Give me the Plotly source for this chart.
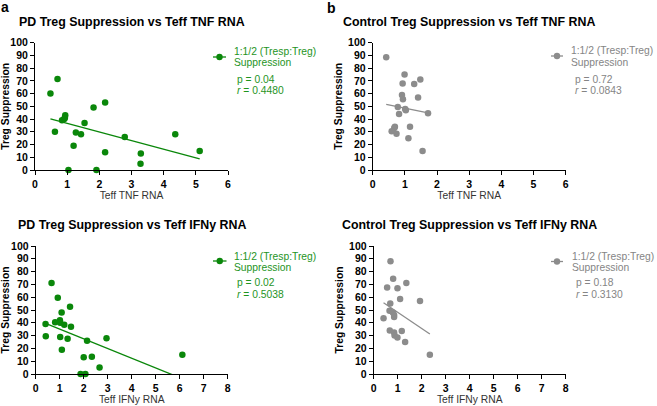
import plotly.graph_objects as go

W, H = 657, 406

# ---------------- data ----------------
pd_tnf_x = [0.48, 0.70, 0.62, 0.84, 0.91, 0.94, 0.93, 1.04, 1.20, 1.27, 1.43, 1.54, 1.82, 1.91, 2.18, 2.18, 2.79, 3.29, 3.28, 4.36, 5.12]
pd_tnf_y = [60, 71.5, 30, 39, 40, 43, 41, 0, 19, 29.5, 28, 37, 49, 0, 53, 14, 26, 13, 5, 28, 15]
pd_tnf_fit_x = [0.48, 5.12]
pd_tnf_fit_y = [40.2, 8.7]

ctrl_tnf_x = [0.42, 0.99, 0.93, 1.29, 1.48, 0.91, 0.94, 1.41, 0.78, 1.01, 1.03, 0.82, 1.72, 0.69, 0.67, 0.59, 0.74, 1.16, 1.11, 1.55]
ctrl_tnf_y = [88.5, 75, 68, 67.5, 71, 59, 55.5, 57, 49.5, 48, 47, 44, 44.5, 34, 33, 30.5, 28.5, 34, 25, 15]
ctrl_tnf_fit_x = [0.42, 1.72]
ctrl_tnf_fit_y = [51.6, 44.9]

pd_ifn_x = [0.41, 0.42, 0.66, 0.81, 0.92, 1.01, 1.02, 1.08, 1.09, 1.02, 1.19, 1.33, 1.43, 1.47, 1.87, 2.07, 2.00, 2.14, 2.34, 2.66, 2.95, 6.11]
pd_ifn_y = [39, 29.5, 71, 40.5, 59.5, 42, 40, 48, 19, 29, 38.5, 27.5, 52.5, 37, 0, 0, 13, 26, 13.5, 5, 28, 15]
pd_ifn_fit_x = [0.41, 6.11]
pd_ifn_fit_y = [39.6, -3.7]

ctrl_ifn_x = [0.70, 0.81, 0.56, 0.99, 1.36, 1.10, 1.93, 0.69, 0.66, 0.80, 0.85, 0.85, 0.41, 0.67, 0.85, 0.87, 0.99, 1.17, 1.31, 2.34]
ctrl_ifn_y = [88, 74.5, 67.5, 67, 71, 58.5, 57, 55, 49.5, 48, 46, 44.5, 43.5, 34, 32.5, 30, 28.5, 33.5, 25, 15]
ctrl_ifn_fit_x = [0.41, 2.34]
ctrl_ifn_fit_y = [55.7, 31.3]

titles = ["PD Treg Suppression vs Teff TNF RNA", "Control Treg Suppression vs Teff TNF RNA",
          "PD Treg Suppression vs Teff IFNy RNA", "Control Treg Suppression vs Teff IFNy RNA"]
x_titles = ["Teff TNF RNA", "Teff TNF RNA", "Teff IFNy RNA", "Teff IFNy RNA"]
y_title = "Treg Suppression"
legend_label = ["1:1/2 (Tresp:Treg)", "Suppression"]
p_values = ["0.04", "0.72", "0.02", "0.18"]
r_values = ["0.4480", "0.0843", "0.5038", "0.3130"]
x_max = [6, 6, 8, 8]

GREEN = "#0a870a"
GREEN_TXT = "#1e941e"
GRAY = "#8c8c8c"
GRAY_TXT = "#858585"
FONT = "Liberation Sans, Arial, Helvetica, sans-serif"

def px(x):
    return x / W

def py(y):
    return 1 - y / H

# pixel layout of each panel: (left, right, top, bottom)
boxes = [(35, 228, 42.7, 170), (372.7, 565.7, 42.7, 170),
         (35.7, 227.7, 246, 374), (373.7, 565.7, 246, 374)]
series = [(pd_tnf_x, pd_tnf_y, pd_tnf_fit_x, pd_tnf_fit_y, GREEN, GREEN_TXT),
          (ctrl_tnf_x, ctrl_tnf_y, ctrl_tnf_fit_x, ctrl_tnf_fit_y, GRAY, GRAY_TXT),
          (pd_ifn_x, pd_ifn_y, pd_ifn_fit_x, pd_ifn_fit_y, GREEN, GREEN_TXT),
          (ctrl_ifn_x, ctrl_ifn_y, ctrl_ifn_fit_x, ctrl_ifn_fit_y, GRAY, GRAY_TXT)]
# legend block positions: (sym_left, sym_right, sym_y, text_left, line1_y, line2_y, stat_left, p_y, r_y)
legend_pos = [(213, 226, 57, 233, 51, 63, 235.5, 79, 90.5),
              (551, 563, 56, 570, 50.5, 62.5, 574, 79, 90.5),
              (213, 226.5, 261, 233, 256, 267, 235.5, 282, 294),
              (551, 563, 261.5, 571, 256, 267, 574.5, 282, 294)]

fig = go.Figure()
layout = dict(width=W, height=H, margin=dict(l=0, r=0, t=0, b=0, autoexpand=False),
              paper_bgcolor="white", plot_bgcolor="white", showlegend=False,
              font=dict(family=FONT, color="black"))
annotations = []
shapes = []

for i in range(4):
    n = "" if i == 0 else str(i + 1)
    xs, ys, fx, fy, col, tcol = series[i]
    l, r, t, b = boxes[i]
    fig.add_trace(go.Scatter(x=xs, y=ys, mode="markers", cliponaxis=False,
                             marker=dict(color=col, size=6.5), xaxis="x" + n, yaxis="y" + n))
    fig.add_trace(go.Scatter(x=fx, y=fy, mode="lines", line=dict(color=col, width=1.3),
                             xaxis="x" + n, yaxis="y" + n))
    axcommon = dict(showline=True, linecolor="black", linewidth=1, ticks="outside",
                    ticklen=4, tickwidth=1, tickcolor="black", showgrid=False, zeroline=False,
                    automargin=False,
                    tickfont=dict(family=FONT, size=10.5, color="black", weight="bold"))
    layout["xaxis" + n] = dict(domain=[px(l), px(r)], range=[0, x_max[i]], dtick=1,
                               anchor="y" + n,
                               title=dict(text=x_titles[i], font=dict(family=FONT, size=10.3, color="#333333"), standoff=3),
                               **axcommon)
    layout["yaxis" + n] = dict(domain=[py(b), py(t)], range=[0, 100], dtick=10,
                               anchor="x" + n,
                               title=dict(text=y_title, font=dict(family=FONT, size=10.3, color="black", weight="bold"), standoff=3),
                               **axcommon)
    # panel title
    annotations.append(dict(text="<b>" + titles[i] + "</b>", x=px((l + r) / 2), y=py(21.7 if i < 2 else 225),
                            xref="paper", yref="paper", showarrow=False, xanchor="center", yanchor="middle",
                            font=dict(family=FONT, size=12.4, color="black")))
    # legend block
    sl, sr, sy, tl, l1, l2, sl2, pyy, ryy = legend_pos[i]
    shapes.append(dict(type="line", xref="paper", yref="paper", x0=px(sl), x1=px(sr), y0=py(sy), y1=py(sy),
                       line=dict(color=col, width=1.3)))
    cx = (sl + sr) / 2
    shapes.append(dict(type="circle", xref="paper", yref="paper", x0=px(cx - 3.2), x1=px(cx + 3.2),
                       y0=py(sy + 3.2), y1=py(sy - 3.2), fillcolor=col, line=dict(color=col, width=0)))
    for txt, xx, yy in [(legend_label[0], tl, l1), (legend_label[1], tl, l2),
                        ("p = " + p_values[i], sl2, pyy), ("<i>r</i> = " + r_values[i], sl2, ryy)]:
        annotations.append(dict(text=txt, x=px(xx), y=py(yy), xref="paper", yref="paper", showarrow=False,
                                xanchor="left", yanchor="middle", borderpad=0,
                                font=dict(family=FONT, size=10.3, color=tcol)))

# panel letters
for letter, xx, yy in [("a", 4.5, 7.5), ("b", 331.5, 8)]:
    annotations.append(dict(text="<b>" + letter + "</b>", x=px(xx), y=py(yy), xref="paper", yref="paper",
                            showarrow=False, xanchor="center", yanchor="middle",
                            font=dict(family=FONT, size=14, color="black")))

layout["annotations"] = annotations
layout["shapes"] = shapes
fig.update_layout(**layout)
fig.write_html("out.html", config={"displayModeBar": False},
               post_script="document.body.style.margin='0';document.body.style.overflow='hidden';")
